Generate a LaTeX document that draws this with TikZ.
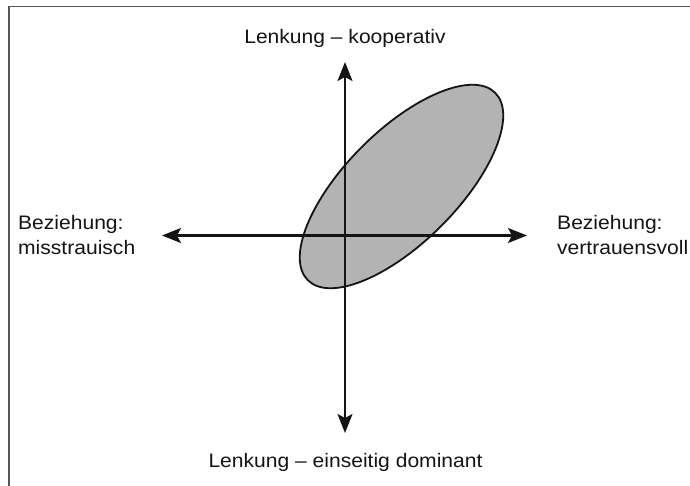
\documentclass[tikz,border=0pt]{standalone}
\usepackage{fontspec}
\setmainfont{Liberation Sans}[FakeStretch=1.08]
\usetikzlibrary{shapes.geometric,arrows.meta}
\definecolor{framegray}{HTML}{555555}
\definecolor{fillgray}{HTML}{B3B3B3}
\definecolor{ink}{HTML}{141414}
\tikzset{
  lbl/.style={inner sep=0pt, text=ink, font=\fontsize{19.5}{25}\selectfont},
  axis/.style={line width=2.2pt, draw=ink, {Stealth[length=19pt,width=15pt,inset=4pt]}-{Stealth[length=19pt,width=15pt,inset=4pt]}},
  blob/.style={ellipse, draw=ink, line width=1.8pt, fill=fillgray, minimum width=265pt, minimum height=112pt, inner sep=0pt, rotate=45}
}
\begin{document}
\begin{tikzpicture}[x=1pt,y=-1pt]
\useasboundingbox (0,0) rectangle (690,486);
\fill[white] (0,0) rectangle (690,486);
% partial frame
\coordinate (ftr) at (690,6.5);
\coordinate (ftl) at (9,6.5);
\coordinate (fbl) at (9,486);
\draw[framegray, line width=1.3pt] (ftr) -- (ftl) -- (fbl);
% ellipse
\node[blob] (e) at (401.5,186.5) {};
% axes
\coordinate (top) at (345,62);
\coordinate (bot) at (345,433);
\coordinate (lft) at (162,235.5);
\coordinate (rgt) at (527,235.5);
\draw[axis] (bot) -- (top);
\draw[axis] (lft) -- (rgt);
% labels
\node[lbl, anchor=base] (t) at (345,44) {Lenkung – kooperativ};
\node[lbl, anchor=base] (b) at (345.5,467) {Lenkung – einseitig dominant};
\node[lbl, anchor=base west, align=left] (l) at (18,254.5) {Beziehung:\\misstrauisch};
\node[lbl, anchor=base west, align=left] (r) at (557,254.5) {Beziehung:\\vertrauensvoll};
\end{tikzpicture}
\end{document}
